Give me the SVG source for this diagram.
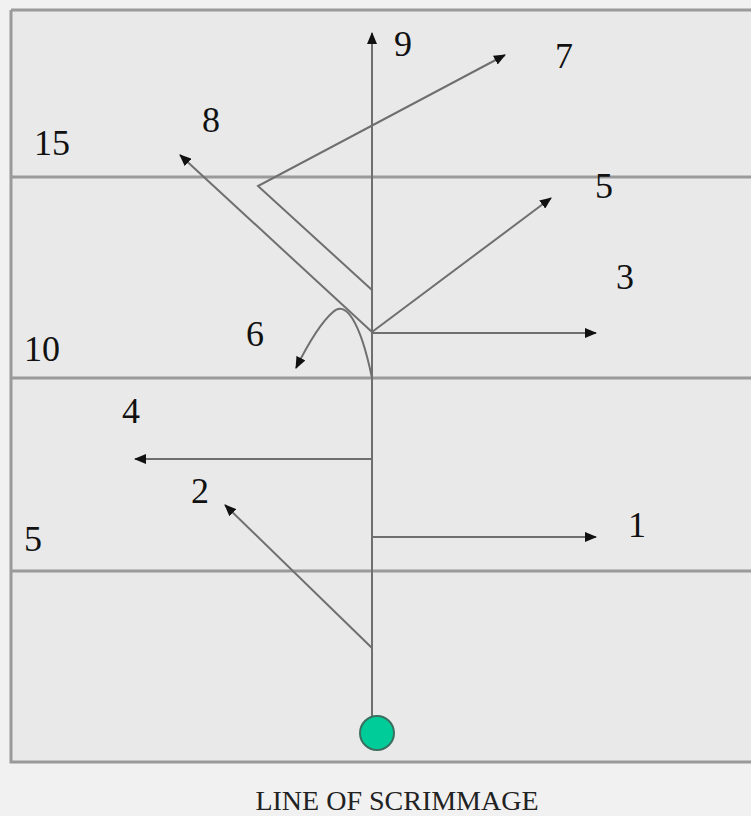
<svg xmlns="http://www.w3.org/2000/svg" width="751" height="816" viewBox="0 0 751 816">
<style>
.field{fill:#e9e9e9}
.yard{stroke:#9a9a9a;stroke-width:3;fill:none}
.route{stroke:#6f6f6f;stroke-width:2;fill:none}
</style>
<defs>
<marker id="ah" viewBox="0 0 12 10" refX="11" refY="5" markerWidth="12" markerHeight="10" orient="auto" markerUnits="userSpaceOnUse">
<path d="M0,0 L12,5 L0,10 Z" fill="#111"/>
</marker>
</defs>
<rect x="0" y="0" width="751" height="816" fill="#f1f1f1"/>
<g id="field">
<rect class="field" x="11" y="10" width="745" height="752"/>
<path class="yard" d="M11,10 H751 M11,10 V762 H751"/>
<line class="yard" x1="11" y1="177" x2="751" y2="177"/>
<line class="yard" x1="11" y1="378" x2="751" y2="378"/>
<line class="yard" x1="11" y1="571" x2="751" y2="571"/>
</g>
<g id="connectors">
<line class="route" x1="372" y1="718" x2="372" y2="33" marker-end="url(#ah)"/>
<polyline class="route" points="372,290 258,186 505,55" marker-end="url(#ah)"/>
<line class="route" x1="372" y1="332" x2="180" y2="155" marker-end="url(#ah)"/>
<line class="route" x1="372" y1="332" x2="551" y2="198" marker-end="url(#ah)"/>
<line class="route" x1="372" y1="333" x2="596" y2="333" marker-end="url(#ah)"/>
<path class="route" d="M372,378 C360,320 345,300 333,312 C318,325 305,350 296,368" marker-end="url(#ah)"/>
<line class="route" x1="372" y1="459" x2="135" y2="459" marker-end="url(#ah)"/>
<line class="route" x1="372" y1="648" x2="225" y2="505" marker-end="url(#ah)"/>
<line class="route" x1="372" y1="537" x2="596" y2="537" marker-end="url(#ah)"/>
</g>
<g id="ball"><circle cx="377" cy="733" r="17" fill="#00cc99" stroke="#3b6f5f" stroke-width="2"/></g>
<g id="labels" font-family="'Liberation Serif', 'Times New Roman', serif" font-size="36" fill="#111">
<text x="394" y="56">9</text>
<text x="555" y="68">7</text>
<text x="202" y="132">8</text>
<text x="34" y="155">15</text>
<text x="595" y="198">5</text>
<text x="616" y="289">3</text>
<text x="246" y="346">6</text>
<text x="24" y="361">10</text>
<text x="122" y="423">4</text>
<text x="191" y="503">2</text>
<text x="628" y="537">1</text>
<text x="24" y="551">5</text>
<text x="397" y="810" text-anchor="middle" font-size="28" fill="#222">LINE OF SCRIMMAGE</text>
</g>
</svg>
